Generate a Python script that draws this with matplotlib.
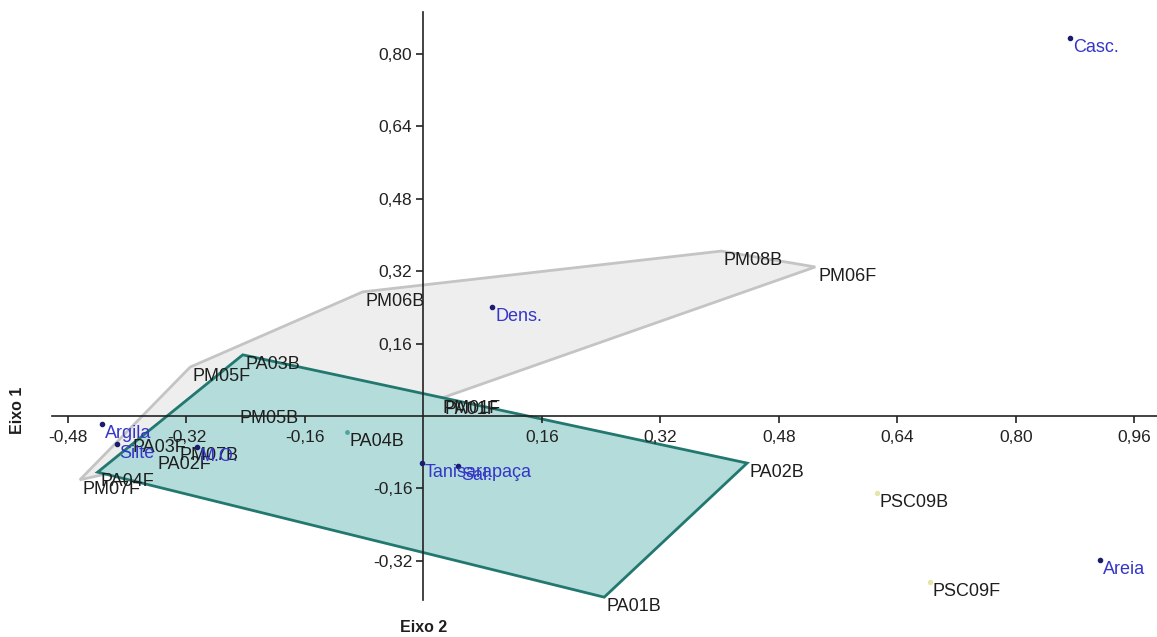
import numpy as np
import matplotlib.pyplot as plt

plt.rcParams['font.family'] = ['Liberation Sans', 'DejaVu Sans']

# sample scores (axis 2 on x, axis 1 on y)
samples = ['PM06B', 'PM08B', 'PM06F', 'PM01F', 'PM07F', 'PM05F', 'PM05B', 'PM07B',
           'PA03B', 'PA02B', 'PA01B', 'PA04F', 'PA01F', 'PA04B', 'PA02F', 'PA03F',
           'PSC09B', 'PSC09F']
sx = [-0.082, 0.402, 0.529, 0.022, -0.464, -0.315, -0.252, -0.333,
      -0.244, 0.437, 0.244, -0.440, 0.024, -0.103, -0.363, -0.396,
      0.612, 0.684]
sy = [0.274, 0.364, 0.329, 0.038, -0.141, 0.108, 0.016, -0.066,
      0.135, -0.104, -0.400, -0.124, 0.036, -0.035, -0.086, -0.049,
      -0.170, -0.366]

# environmental variables
variables = ['Casc.', 'Dens.', 'Areia', 'Argila', 'Silte', 'M.O.', 'Tanisarapaça', 'Sal.']
vx = [0.873, 0.093, 0.914, -0.434, -0.414, -0.306, -0.002, 0.047]
vy = [0.834, 0.241, -0.318, -0.018, -0.062, -0.068, -0.104, -0.110]

# convex hulls of the two groups
hull_pm = ['PM06B', 'PM08B', 'PM06F', 'PM01F', 'PM07F', 'PM05F']
hull_pa = ['PA03B', 'PA02B', 'PA01B', 'PA04F']

xticks = [-0.48, -0.32, -0.16, 0.16, 0.32, 0.48, 0.64, 0.80, 0.96]
yticks = [-0.32, -0.16, 0.16, 0.32, 0.48, 0.64, 0.80]

pos = {n: (x, y) for n, x, y in zip(samples, sx, sy)}

fig = plt.figure(figsize=(11.57, 6.37), dpi=100)
ax = fig.add_axes([0, 0, 1, 1])
ax.set_xlim(-0.5718, 0.9904)
ax.set_ylim(-0.4879, 0.9183)
ax.patch.set_alpha(0)
ax.set_axisbelow(False)

pm = np.array([pos[n] for n in hull_pm])
pa = np.array([pos[n] for n in hull_pa])
ax.fill(pm[:, 0], pm[:, 1], facecolor='#eeeeee', edgecolor='#c4c4c4', lw=2, zorder=1)
ax.fill(pa[:, 0], pa[:, 1], facecolor='#b4dcda', edgecolor='#22786f', lw=2, zorder=2)

# axes crossing at the origin
for s in ['top', 'right']:
    ax.spines[s].set_visible(False)
ax.spines['left'].set_position(('data', 0))
ax.spines['bottom'].set_position(('data', 0))
ax.spines['left'].set_bounds(-0.406, 0.892)
ax.spines['bottom'].set_bounds(-0.5016, 0.99)
for s in ['left', 'bottom']:
    ax.spines[s].set_zorder(5)
    ax.spines[s].set_linewidth(1.2)
    ax.spines[s].set_color('#222222')

fmt = lambda v: ('%.2f' % v).replace('.', ',')
ax.set_xticks(xticks)
ax.set_xticklabels([fmt(v) for v in xticks])
ax.set_yticks(yticks)
ax.set_yticklabels([fmt(v) for v in yticks])
ax.tick_params(axis='both', direction='out', length=5, width=1.2, color='#222222',
               labelsize=12.5, labelcolor='#222222')
ax.tick_params(axis='x', pad=5)
ax.tick_params(axis='y', pad=3)

# sample markers: only PA04B and PSC samples show a visible dot
ax.scatter([pos['PA04B'][0]], [pos['PA04B'][1]], s=6, color='#4aa79f', zorder=6)
ax.scatter([pos['PSC09B'][0], pos['PSC09F'][0]], [pos['PSC09B'][1], pos['PSC09F'][1]],
           s=8, color='#e6e6a8', zorder=6)
for n, x, y in zip(samples, sx, sy):
    ax.annotate(n, (x, y), xytext=(2, -7), textcoords='offset points',
                fontsize=13, color='#1e1e1e', va='center', ha='left', zorder=7)

ax.scatter(vx, vy, s=9, color='#1c1c6e', zorder=8)
for n, x, y in zip(variables, vx, vy):
    ax.annotate(n, (x, y), xytext=(2, -7), textcoords='offset points',
                fontsize=13, color='#3535c8', va='center', ha='left', zorder=9)

fig.text(424 / 1157, 1 - 628 / 637, 'Eixo 2', fontsize=11.5, fontweight='bold',
         ha='center', va='center', color='#1e1e1e')
fig.text(18 / 1157, 1 - 410 / 637, 'Eixo 1', fontsize=11.5, fontweight='bold',
         ha='center', va='center', rotation=90, color='#1e1e1e')

fig.savefig('out.png', dpi=100)
